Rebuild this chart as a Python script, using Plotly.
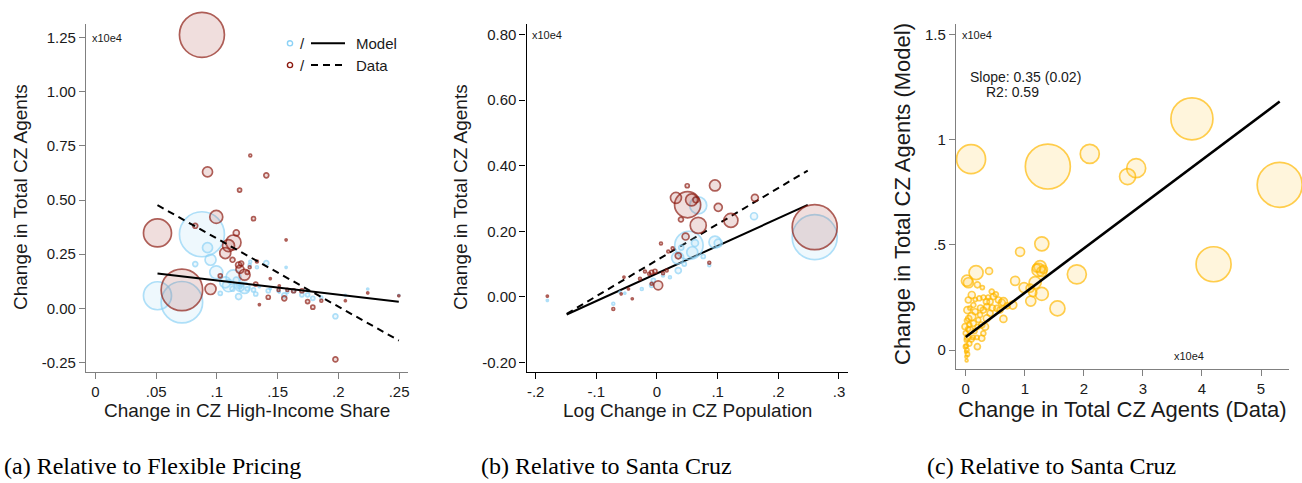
import numpy as np
import plotly.graph_objects as go

W, H = 1302, 483
SANS = "Liberation Sans, Arial, Helvetica, sans-serif"
SERIF = "Liberation Serif, Times New Roman, serif"

# ---------------- (a) Relative to flexible pricing ----------------
# one entry per commuting zone: high-income share change, population weight,
# change in total agents (x10e4) in the model and in the data
a_share = [0.0877, 0.0712, 0.0511, 0.0995, 0.0948, 0.1137, 0.1096, 0.1228, 0.1069, 0.0923,
           0.0822, 0.1976, 0.1407, 0.1187, 0.1302, 0.1275, 0.1160, 0.1129, 0.1200, 0.1250,
           0.1028, 0.1320, 0.1330, 0.1423, 0.1440, 0.1555, 0.1514, 0.1632, 0.1700, 0.1747,
           0.1790, 0.1860, 0.1570, 0.1350, 0.2242, 0.2058, 0.2498, 0.1179, 0.1190, 0.1508,
           0.1580, 0.1270]
a_pop = [506, 430, 196, 42, 30, 56, 36, 30, 30, 25,
         6, 6, 6, 4, 4, 2, 9, 6, 6, 4,
         4, 4, 2, 4, 1, 6, 1, 4, 4, 4,
         4, 2, 1, 1, 1, 1, 1, 9, 16, 2,
         2, 2]
a_model = [0.342, 0.028, 0.058, 0.166, 0.224, 0.143, 0.104, 0.094, 0.120, 0.280,
           0.204, -0.037, 0.209, 0.100, 0.085, 0.215, 0.130, 0.090, 0.110, 0.090,
           0.069, 0.066, 0.190, 0.081, 0.090, 0.060, 0.075, 0.081, 0.062, 0.062,
           0.046, 0.050, 0.189, 0.100, 0.089, 0.060, 0.060, 0.054, 0.097, 0.080,
           0.075, 0.200]
a_data = [1.263, 0.085, 0.348, 0.422, 0.089, 0.304, 0.289, 0.155, 0.255, 0.630,
          0.381, -0.236, 0.614, 0.546, 0.414, 0.706, 0.348, 0.224, 0.207, 0.166,
          0.150, 0.112, 0.216, 0.051, 0.137, 0.046, 0.104, 0.081, 0.081, 0.031,
          0.005, 0.035, 0.316, 0.017, 0.071, 0.035, 0.058, 0.200, 0.180, 0.085,
          0.085, 0.190]
a_fit_model = (0.194, -0.654)   # intercept, slope
a_fit_data = (0.637, -3.146)
a_fit_range = (0.0511, 0.2498)

# ---------------- (b) Relative to Santa Cruz ----------------
b_model_x = [0.260, 0.0527, 0.068, 0.0956, 0.101, 0.160, 0.0341, 0.0582, 0.0626, 0.0351,
             0.0763, 0.0862, 0.040, -0.006, -0.0088, 0.0214, -0.025, -0.053, -0.072, -0.1807,
             -0.061, 0.010, 0.045]
b_model_y = [0.182, 0.157, 0.279, 0.167, 0.164, 0.246, 0.119, 0.136, 0.164, 0.080,
             0.123, 0.096, 0.150, 0.050, 0.035, 0.060, 0.024, 0.011, -0.021, -0.011,
             0.014, 0.065, 0.100]
b_model_pop = [506, 200, 72, 36, 16, 12, 36, 30, 12, 9,
               4, 2, 6, 4, 4, 2, 2, 1, 2, 1,
               1, 2, 4]
b_data_x = [0.260, 0.0505, 0.0313, 0.0571, 0.0642, 0.0499, 0.0956, 0.101, 0.1219, 0.1614,
            0.068, 0.0395, 0.0472, 0.0351, 0.002, 0.0066, 0.0258, 0.0186, 0.0862, -0.0033,
            -0.0088, -0.028, -0.0198, -0.0088, -0.0544, -0.047, -0.072, -0.0407, -0.059, -0.1807,
            0.016, 0.010, -0.013]
b_data_y = [0.2125, 0.281, 0.302, 0.296, 0.296, 0.339, 0.340, 0.273, 0.233, 0.302,
            0.218, 0.236, 0.184, 0.125, 0.035, 0.163, 0.148, 0.138, 0.104, 0.078,
            0.075, 0.055, 0.077, 0.040, 0.060, 0.024, -0.037, -0.006, 0.009, 0.002,
            0.080, 0.072, 0.070]
b_data_pop = [506, 170, 30, 36, 9, 4, 30, 16, 49, 12,
              64, 6, 12, 9, 20, 2, 2, 2, 2, 4,
              4, 2, 2, 2, 1, 1, 2, 1, 1, 1,
              2, 2, 2]
b_fit_model = (0.0713, 0.842)
b_fit_data = (0.1118, 1.101)
b_fit_range = (-0.1488, 0.2485)

# ---------------- (c) Model vs data, relative to Santa Cruz ----------------
c_data = [0.090, 1.390, 2.100, 2.886, 2.740, 3.830, 5.316, 4.197, 1.881, 1.553,
          1.288, 0.920, 1.259, 1.231, 1.288, 1.316, 1.200, 1.288, 1.101, 1.135,
          1.175, 0.988, 1.090, 0.836, 0.796, 0.638, 0.610, 0.175, 0.395, 0.020,
          0.045, 0.281, 0.197, 0.468, 0.510, 0.412, 0.356, 0.298, 0.242, 0.129,
          0.102, 0.044, 0.158, 0.214, 0.271, 0.327, 0.298, 0.271, 0.197, -0.012,
          0.000, 0.010, -0.005, 0.005, 0.010, 0.073, 0.129, 0.102, 0.050, 0.525,
          0.412, 0.356, 0.580, 0.553, 0.638, 0.440, 0.380, 0.230, 0.160, 0.028,
          0.070, 0.030, 0.060, 0.020, 0.015, 0.100, 0.150, 0.200, 0.250, 0.450,
          0.700, 0.020, 0.040, 0.060, 0.010, 0.030, 0.120, 0.190, 0.350, 0.300]
c_model = [0.908, 0.873, 0.933, 0.865, 0.825, 1.100, 0.786, 0.408, 0.360, 0.198,
           0.505, 0.467, 0.397, 0.381, 0.373, 0.384, 0.390, 0.267, 0.233, 0.273,
           0.321, 0.297, 0.294, 0.329, 0.214, 0.148, 0.225, 0.368, 0.376, 0.330,
           0.320, 0.297, 0.310, 0.254, 0.265, 0.230, 0.206, 0.190, 0.167, 0.214,
           0.262, 0.238, 0.182, 0.143, 0.119, 0.111, 0.079, 0.056, 0.016, 0.111,
           0.080, 0.048, 0.016, -0.008, -0.032, 0.095, 0.127, 0.159, 0.150, 0.198,
           0.175, 0.151, 0.190, 0.238, 0.230, 0.278, 0.250, 0.246, 0.240, 0.190,
           0.200, 0.060, 0.030, 0.000, -0.050, 0.050, 0.090, 0.110, 0.200, 0.200,
           0.210, 0.140, 0.100, 0.120, 0.020, -0.020, 0.060, 0.060, 0.230, 0.250]
c_pop = [210, 506, 90, 90, 64, 441, 506, 306, 90, 56,
         49, 20, 36, 42, 25, 16, 16, 42, 25, 16,
         36, 25, 16, 20, 16, 12, 12, 49, 12, 30,
         25, 4, 9, 9, 6, 9, 9, 9, 6, 6,
         12, 9, 9, 6, 9, 12, 6, 9, 9, 9,
         6, 4, 4, 2, 2, 12, 9, 16, 9, 9,
         9, 12, 9, 9, 16, 6, 6, 6, 4, 12,
         4, 9, 6, 4, 2, 6, 6, 6, 9, 9,
         9, 6, 6, 6, 4, 4, 4, 4, 9, 6]
c_fit = (0.062, 0.2107)
c_fit_range = (0.0, 5.316)
c_slope_text = "Slope: 0.35 (0.02)"
c_r2_text = "R2: 0.59"

BLUE = "rgb(140,210,246)"
BLUE_FILL = "rgba(150,215,248,0.22)"
RED = "rgb(140,26,16)"
RED_FILL = "rgba(165,45,35,0.22)"
GOLD = "rgb(255,184,0)"
GOLD_FILL = "rgba(255,205,60,0.25)"


def diam(pop):
    return 2.0 * np.sqrt(np.asarray(pop, dtype=float))


def bubbles(x, y, pop, edge, fill, xa, ya):
    return go.Scatter(x=x, y=y, mode="markers", xaxis=xa, yaxis=ya, showlegend=False,
                      hoverinfo="skip", cliponaxis=False,
                      marker=dict(size=diam(pop), sizemode="diameter", color=fill,
                                  line=dict(color=edge, width=1.7)))


def fit_line(coef, rng, xa, ya, dash="solid", width=2):
    xs = np.array(rng)
    ys = coef[0] + coef[1] * xs
    return go.Scatter(x=xs, y=ys, mode="lines", xaxis=xa, yaxis=ya, showlegend=False,
                      hoverinfo="skip", line=dict(color="black", width=width, dash=dash))


fig = go.Figure()
# panel (a)
fig.add_trace(bubbles(a_share, a_model, a_pop, BLUE, BLUE_FILL, "x", "y"))
fig.add_trace(bubbles(a_share, a_data, a_pop, RED, RED_FILL, "x", "y"))
fig.add_trace(fit_line(a_fit_model, a_fit_range, "x", "y"))
fig.add_trace(fit_line(a_fit_data, a_fit_range, "x", "y", dash="7px,5px"))
# panel (b)
fig.add_trace(fit_line(b_fit_model, b_fit_range, "x2", "y2"))
fig.add_trace(fit_line(b_fit_data, b_fit_range, "x2", "y2", dash="7px,5px"))
fig.add_trace(bubbles(b_model_x, b_model_y, b_model_pop, BLUE, BLUE_FILL, "x2", "y2"))
fig.add_trace(bubbles(b_data_x, b_data_y, b_data_pop, RED, RED_FILL, "x2", "y2"))
# panel (c)
fig.add_trace(bubbles(c_data, c_model, c_pop, GOLD, GOLD_FILL, "x3", "y3"))
fig.add_trace(fit_line(c_fit, c_fit_range, "x3", "y3", width=2.6))


def axis(color, domain, rng, tickvals, ticktext, anchor, size=15):
    return dict(domain=domain, range=rng, tickvals=tickvals, ticktext=ticktext, anchor=anchor,
                showline=True, linecolor=color, linewidth=1.4, ticks="outside", ticklen=6,
                tickwidth=1.2, tickcolor=color, showgrid=False, zeroline=False,
                tickfont=dict(family=SANS, size=size, color="#1a1a1a"))


GRAY = "#808080"
fig.update_layout(
    width=W, height=H, margin=dict(l=0, r=0, t=0, b=0),
    paper_bgcolor="white", plot_bgcolor="white", showlegend=False,
    xaxis=axis(GRAY, [0.0661, 0.3134], [-0.0077, 0.2574],
               [0, 0.05, 0.1, 0.15, 0.2, 0.25], ["0", ".05", ".1", ".15", ".2", ".25"], "y"),
    yaxis=axis(GRAY, [0.2304, 0.9503], [-0.293, 1.313],
               [-0.25, 0, 0.25, 0.5, 0.75, 1.0, 1.25],
               ["-0.25", "0.00", "0.25", "0.50", "0.75", "1.00", "1.25"], "x"),
    xaxis2=axis("black", [0.4045, 0.6515], [-0.2148, 0.3153],
                [-0.2, -0.1, 0, 0.1, 0.2, 0.3], ["-.2", "-.1", "0", ".1", ".2", ".3"], "y2"),
    yaxis2=axis("black", [0.2304, 0.9503], [-0.2287, 0.8327],
                [-0.2, 0, 0.2, 0.4, 0.6, 0.8],
                ["-0.20", "0.00", "0.20", "0.40", "0.60", "0.80"], "x2"),
    xaxis3=axis(GRAY, [0.7343, 0.9898], [-0.164, 5.469],
                [0, 1, 2, 3, 4, 5], ["0", "1", "2", "3", "4", "5"], "y3"),
    yaxis3=axis(GRAY, [0.2366, 0.9503], [-0.089, 1.551],
                [0, 0.5, 1, 1.5], ["0", ".5", "1", "1.5"], "x3"),
)


def px(x):
    return x / W


def py(y):
    return 1 - y / H


ann = []


def text(x, y, s, size, xanchor="center", angle=0, family=SANS, color="#1a1a1a"):
    ann.append(dict(x=px(x), y=py(y), xref="paper", yref="paper", text=s, showarrow=False,
                    xanchor=xanchor, yanchor="middle", textangle=angle,
                    font=dict(family=family, size=size, color=color)))


# axis titles
text(20, 197, "Change in Total CZ Agents", 19, angle=-90)
text(246.5, 410, "Change in CZ High-Income Share", 19)
text(460, 197, "Change in Total CZ Agents", 19, angle=-90)
text(687, 410, "Log Change in CZ Population", 19)
text(903, 194, "Change in Total CZ Agents (Model)", 22, angle=-90)
text(1122, 409, "Change in Total CZ Agents (Data)", 22)

# scale markers
text(90, 38.3, "x10e4", 11, xanchor="left")
text(530, 34.7, "x10e4", 11, xanchor="left")
text(959.5, 34.7, "x10e4", 11, xanchor="left")
text(1171.5, 355.7, "x10e4", 11, xanchor="left")

# regression summary
text(968, 76.5, c_slope_text, 14, xanchor="left")
text(984, 92, c_r2_text, 14, xanchor="left")

# panel captions
text(152, 466, "(a) Relative to Flexible Pricing", 24, family=SERIF, color="black")
text(606, 466, "(b) Relative to Santa Cruz", 24, family=SERIF, color="black")
text(1051, 466, "(c) Relative to Santa Cruz", 24, family=SERIF, color="black")

# legend of panel (a)
shapes = []
for row_y, edge, dash, label in [(43.3, BLUE, "solid", "Model"), (65.0, RED, "7px,5px", "Data")]:
    shapes.append(dict(type="circle", xref="paper", yref="paper", xsizemode="pixel",
                       ysizemode="pixel", xanchor=px(290), yanchor=py(row_y),
                       x0=-2.6, x1=2.6, y0=-2.6, y1=2.6, line=dict(color=edge, width=1.4),
                       fillcolor="white"))
    shapes.append(dict(type="line", xref="paper", yref="paper", x0=px(311), x1=px(345),
                       y0=py(row_y), y1=py(row_y), line=dict(color="black", width=2, dash=dash)))
    text(302.5, row_y, "/", 15)
    text(354, row_y, label, 15, xanchor="left")

fig.update_layout(annotations=ann, shapes=shapes)
fig.write_html("out.html")
